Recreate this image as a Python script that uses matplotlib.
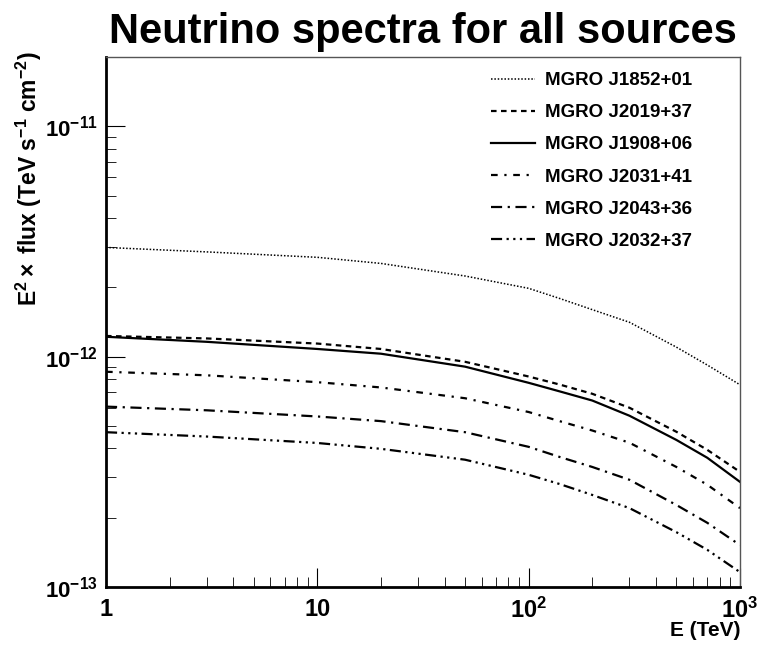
import matplotlib

matplotlib.use("Agg")
import matplotlib.pyplot as plt
from matplotlib.ticker import NullFormatter

energy = [1, 3, 10, 20, 50, 100, 140, 200, 300, 500, 700, 1000]

# E^2 x flux (TeV s^-1 cm^-2)
j1852 = [2.98e-12, 2.85e-12, 2.70e-12, 2.54e-12, 2.24e-12, 1.98e-12,
         1.79e-12, 1.60e-12, 1.41e-12, 1.10e-12, 0.92e-12, 0.755e-12]
j2019 = [1.23e-12, 1.20e-12, 1.14e-12, 1.08e-12, 0.95e-12, 0.82e-12,
         0.757e-12, 0.69e-12, 0.60e-12, 0.472e-12, 0.394e-12, 0.316e-12]
j1908 = [1.22e-12, 1.16e-12, 1.08e-12, 1.03e-12, 0.905e-12, 0.77e-12,
         0.707e-12, 0.645e-12, 0.554e-12, 0.435e-12, 0.364e-12, 0.286e-12]
j2031 = [8.6e-13, 8.3e-13, 7.75e-13, 7.35e-13, 6.6e-13, 5.75e-13,
         5.25e-13, 4.78e-13, 4.23e-13, 3.32e-13, 2.78e-13, 2.2e-13]
j2043 = [6.07e-13, 5.85e-13, 5.5e-13, 5.25e-13, 4.7e-13, 4.06e-13,
         3.67e-13, 3.32e-13, 2.92e-13, 2.27e-13, 1.9e-13, 1.52e-13]
j2032 = [4.7e-13, 4.5e-13, 4.22e-13, 3.98e-13, 3.57e-13, 3.07e-13,
         2.8e-13, 2.51e-13, 2.2e-13, 1.73e-13, 1.45e-13, 1.16e-13]

labels = ["MGRO J1852+01", "MGRO J2019+37", "MGRO J1908+06",
          "MGRO J2031+41", "MGRO J2043+36", "MGRO J2032+37"]
series = [j1852, j2019, j1908, j2031, j2043, j2032]
styles = [
    dict(ls=(0, (1, 1.2)), lw=1.1),
    dict(ls=(0, (2.5, 2)), lw=1.6),
    dict(ls="-", lw=1.6),
    dict(ls=(0, (3, 3, 1, 3)), lw=1.6),
    dict(ls=(0, (5, 2.5, 1, 2.5)), lw=1.6),
    dict(ls=(0, (5, 2, 1, 2, 1, 2, 1, 2)), lw=1.6),
]

plt.rcParams["font.family"] = ["Liberation Sans", "DejaVu Sans"]
plt.rcParams["mathtext.fontset"] = "custom"
plt.rcParams["mathtext.rm"] = "Liberation Sans:bold"
plt.rcParams["mathtext.it"] = "Liberation Sans:bold"
plt.rcParams["mathtext.bf"] = "Liberation Sans:bold"

fig = plt.figure(figsize=(7.62, 6.5), dpi=100)
ax = fig.add_axes([106 / 762, 1 - 587 / 650, (740 - 106) / 762, (587 - 57) / 650])

for y, lab, st in zip(series, labels, styles):
    ax.plot(energy, y, color="black", label=lab, **st)

ax.set_xscale("log")
ax.set_yscale("log")
ax.set_xlim(1, 1000)
ax.set_ylim(1e-13, 2e-11)

ax.set_xticks([1, 10, 100, 1000])
ax.set_xticklabels(["1", "10", "$10^2$", "$10^3$"])
ax.set_yticks([1e-13, 1e-12, 1e-11])
ax.set_yticklabels(["$10^{-13}$", "$10^{-12}$", "$10^{-11}$"])
ax.tick_params(axis="x", labelsize=17, pad=8, direction="in", length=14)
ax.tick_params(axis="y", labelsize=16, pad=6, direction="in", length=14)
ax.tick_params(which="minor", direction="in", length=7)
for lab in ax.get_xticklabels() + ax.get_yticklabels():
    lab.set_fontweight("bold")
ax.yaxis.set_minor_formatter(NullFormatter())
ax.xaxis.set_minor_formatter(NullFormatter())

for sp in ax.spines.values():
    sp.set_linewidth(1.0)
    sp.set_color("#555555")
for side in ("left", "bottom"):
    ax.spines[side].set_linewidth(2)
    ax.spines[side].set_color("black")

ax.set_xlabel("E (TeV)", fontsize=15, fontweight="bold", loc="right")
ax.xaxis.set_label_coords(1.0, -0.065)
ax.set_ylabel(r"E$^{2}\times$ flux (TeV s$^{-1}$ cm$^{-2}$)", fontsize=16.5,
              fontweight="bold", loc="top")
ax.yaxis.set_label_coords(-0.098, 1.01)

ax.set_title("Neutrino spectra for all sources", fontsize=30,
             fontweight="bold", pad=10)

ax.legend(loc="upper right", bbox_to_anchor=(692 / 762, 1 - 72 / 650),
          bbox_transform=fig.transFigure, frameon=False, borderaxespad=0,
          borderpad=0, handlelength=2.3, handletextpad=0.55,
          labelspacing=0.8, prop=dict(weight="bold", size=13.5))

fig.savefig("out.png", dpi=100)
